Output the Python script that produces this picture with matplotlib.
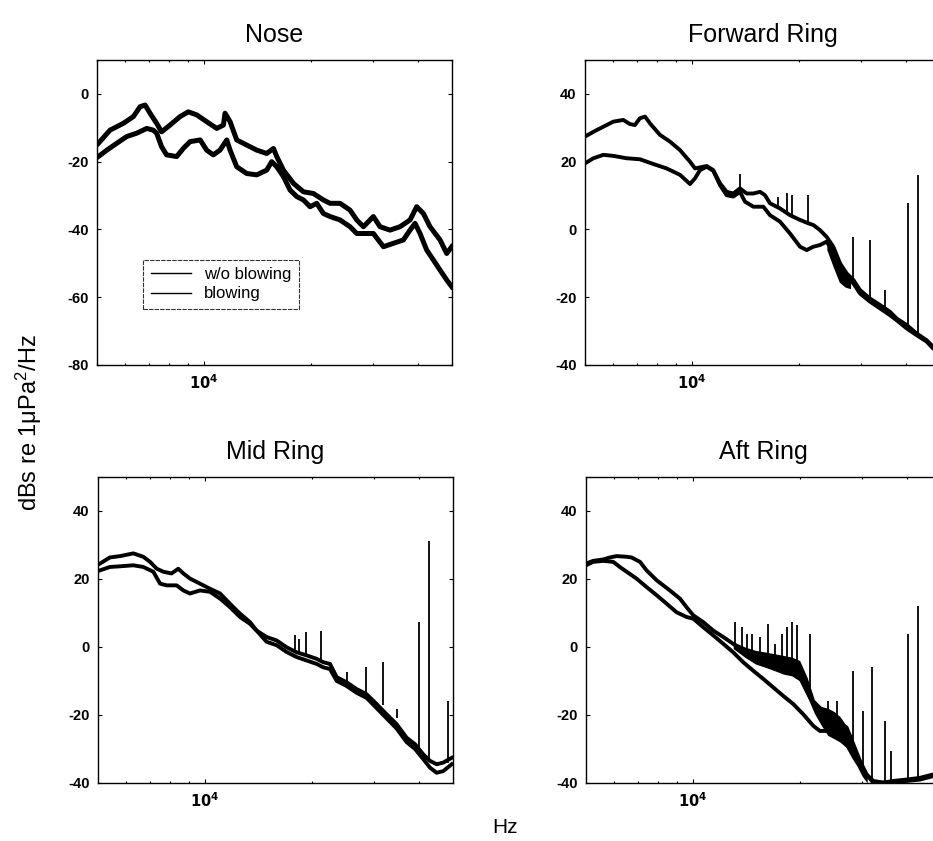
import matplotlib
matplotlib.use("Agg")
import matplotlib.pyplot as plt
from matplotlib.ticker import FixedLocator, FixedFormatter, NullFormatter

plt.rcParams['font.family'] = ['Liberation Sans', 'DejaVu Sans']
plt.rcParams['mathtext.fontset'] = 'custom'
plt.rcParams['mathtext.rm'] = 'Liberation Sans'
plt.rcParams['mathtext.it'] = 'Liberation Sans:italic'

# ---- Nose ----
nose_freq_a = [5043, 5440, 5930, 6330, 6610, 6830, 7050, 7360, 7600, 8030, 8570, 9040, 9540,
               10180, 10870, 11350, 11470, 11850, 12370, 13200, 14090, 15030, 15700, 16040,
               16750, 17870, 19070, 20340, 21700, 22670, 24180, 25800, 26950, 28140, 30020,
               31340, 33440, 35690, 38080, 39760, 41520, 43350, 46260, 48300, 49900]
nose_db_a = [-14.6, -10.7, -8.7, -6.7, -3.8, -3.3, -5.7, -8.7, -11.2, -9.2, -6.7, -5.3, -6.2,
             -8.2, -10.2, -9.2, -5.7, -8.2, -13.6, -15.1, -16.6, -17.6, -16.1, -18.5,
             -22.5, -26.4, -28.9, -29.4, -31.3, -32.3, -32.3, -34.3, -37.2, -39.2, -36.2,
             -39.2, -40.2, -39.2, -37.2, -33.3, -35.3, -39.2, -43.1, -47.1, -45.1]
nose_freq_b = [5043, 5330, 5680, 6060, 6470, 6900, 7200, 7360, 7600, 7850, 8380, 8750, 9140,
               9760, 10180, 10630, 11100, 11350, 11600, 11850, 12370, 13200, 14090, 15030,
               15520, 16040, 16750, 17490, 18260, 19070, 19910, 20790, 21700, 22670, 24180,
               25800, 26950, 28140, 30020, 32040, 34180, 36470, 38080, 39330, 40630, 42430,
               44290, 46260, 48300, 49900]
nose_db_b = [-18.5, -16.6, -14.6, -12.6, -11.6, -10.2, -10.7, -11.6, -15.6, -18.0, -18.5, -16.1,
             -14.1, -13.6, -16.6, -18.0, -16.6, -15.1, -13.6, -16.6, -21.5, -23.5, -23.9, -22.5,
             -20.0, -21.5, -24.4, -28.4, -30.3, -31.3, -33.3, -32.3, -35.3, -36.2, -37.2,
             -39.2, -41.2, -41.2, -41.2, -45.1, -44.1, -43.1, -40.2, -38.2, -41.2, -46.1,
             -49.0, -52.0, -54.9, -56.9]

# ---- Forward Ring ----
fwd_freq_a = [5000, 5280, 5630, 6010, 6410, 6690, 6910, 7140, 7380, 7620, 8130, 8680, 9260,
              9880, 10210, 10540, 11010, 11490, 12000, 12530, 13090, 13660, 14270, 14900,
              15560, 16070, 16600, 17710, 18900, 20170, 21290, 21990, 22960, 23970, 25030,
              26140, 27290, 28500, 29760, 31750, 33880, 36150, 37750, 40280, 42970, 45860,
              47790, 50000]
fwd_db_a = [27.4, 28.8, 30.3, 31.8, 32.3, 31.1, 30.8, 32.8, 33.3, 31.3, 27.9, 25.9, 23.4,
            20.0, 18.0, 18.3, 18.7, 17.5, 13.6, 11.1, 10.6, 12.1, 10.6, 10.6,
            11.1, 10.1, 7.7, 6.2, 4.2, 2.8, 1.8, 1.3, -0.2, -2.2, -5.1,
            -10.0, -13.0, -14.9, -17.9, -20.4, -22.3, -24.3, -26.3, -28.2, -30.7, -32.7,
            -34.6, -35.5]
fwd_freq_b = [5000, 5280, 5630, 6010, 6550, 7140, 7790, 8490, 9260, 9880, 10210, 10540, 11010,
              11490, 12000, 12530, 13090, 13660, 14110, 14900, 15900, 16600, 17710, 18900,
              20170, 21060, 21990, 22960, 23970, 25030, 26140, 27290, 28500, 29760, 31750,
              33880, 36150, 37750, 40280, 42970, 45860, 47790, 50000]
fwd_db_b = [19.5, 21.0, 22.0, 21.7, 21.0, 20.7, 19.3, 18.0, 16.1, 13.4, 15.1, 17.5, 18.5,
            17.3, 13.1, 10.1, 9.7, 11.1, 8.2, 6.7, 6.7, 4.2, 2.3, -1.2,
            -5.1, -6.1, -5.1, -4.6, -3.6, -6.6, -10.5, -14.0, -15.9, -18.9, -21.3,
            -23.3, -25.3, -26.8, -29.2, -31.2, -33.1, -35.1, -36.0]
fwd_band_freq = [24000, 25000, 26000, 27000, 28000]
fwd_band_lo = [-6.0, -11.0, -15.5, -17.0, -17.5]
fwd_band_hi = [-2.5, -5.0, -9.0, -12.0, -14.0]
fwd_spike_freq = [13660, 17520, 18500, 19100, 21290, 28500, 31750, 35000, 40540, 43250]
fwd_spike_base = [11.0, 6.0, 4.5, 4.0, 1.3, -15.0, -20.5, -23.0, -28.0, -31.0]
fwd_spike_top = [16.5, 9.7, 10.6, 10.1, 10.1, -2.2, -3.1, -17.9, 7.7, 16.0]

# ---- Mid Ring ----
mid_freq_a = [5065, 5400, 5770, 6290, 6710, 7010, 7320, 7640, 8060, 8420, 8700, 9080, 9690,
              10340, 11040, 11770, 12560, 13400, 13990, 14930, 15930, 17000, 18150, 19360,
              20650, 21560, 22520, 23520, 25090, 26770, 28560, 30470, 32510, 34690, 37020,
              39080, 41250, 43070, 44980, 46960, 49570]
mid_db_a = [24.5, 26.3, 26.7, 27.5, 26.5, 25.0, 23.0, 22.1, 21.6, 23.0, 21.6, 20.1, 18.6,
            17.1, 15.7, 12.7, 9.8, 7.3, 4.8, 2.9, 1.9, -0.1, -1.6, -2.5,
            -3.5, -4.5, -5.0, -8.9, -10.4, -12.4, -13.9, -16.8, -19.8, -22.7, -26.7,
            -28.6, -31.6, -33.5, -34.5, -34.0, -32.6]
mid_freq_b = [5065, 5400, 5770, 6290, 6710, 7160, 7480, 7810, 8330, 8700, 9080, 9690, 10340,
              11040, 11770, 12560, 13400, 13990, 14930, 15930, 17000, 18150, 19360, 20650,
              21560, 22520, 23520, 25090, 26770, 28560, 30470, 32510, 34690, 37020, 39080,
              41250, 43070, 44980, 46960, 49570]
mid_db_b = [22.5, 23.5, 23.7, 24.0, 23.5, 22.1, 18.6, 18.1, 18.1, 16.6, 15.7, 16.6, 16.2,
            14.2, 11.7, 8.8, 6.8, 4.8, 1.5, 0.5, -1.5, -3.0, -4.0, -5.0,
            -6.0, -6.5, -10.0, -11.5, -13.5, -15.0, -18.0, -21.0, -24.0, -28.0, -30.0,
            -33.0, -35.5, -37.0, -36.5, -34.5]
mid_spike_freq = [17950, 18460, 19270, 21240, 25090, 28440, 31830, 34690, 40190, 42800, 48510]
mid_spike_base = [-1.6, -2.0, -2.5, -4.0, -11.0, -14.0, -17.0, -21.0, -30.0, -33.0, -34.0]
mid_spike_top = [3.4, 2.4, 4.3, 4.8, -7.5, -6.0, -4.5, -18.3, 7.3, 31.0, -15.8]

# ---- Aft Ring ----
aft_freq_a = [5000, 5240, 5590, 5840, 6100, 6510, 6720, 7100, 7410, 7910, 8620, 9200, 9600,
              10030, 10700, 11420, 12190, 13000, 13870, 14800, 15790, 16850, 17980, 19190,
              20030, 20920, 21850, 22810, 23820, 25420, 27120, 28320, 29570, 30870, 32230,
              34400, 36700, 40020, 43630, 47470, 50000]
aft_db_a = [24.5, 25.3, 25.7, 26.3, 26.7, 26.5, 26.3, 25.0, 22.5, 19.6, 16.6, 14.2, 11.7,
            9.3, 7.3, 4.8, 2.9, 0.9, -1.1, -2.5, -4.0, -5.0, -6.0, -7.0,
            -8.9, -12.9, -16.8, -20.8, -21.7, -21.7, -23.7, -28.6, -33.5, -37.5, -39.9,
            -39.9, -39.9, -39.4, -39.0, -38.0, -38.0]
aft_freq_b = [5000, 5240, 5590, 5970, 6230, 6510, 6940, 7410, 7910, 8440, 9000, 9600, 10030,
              10700, 11420, 12190, 13000, 13870, 14800, 15790, 16850, 17980, 19190, 20470,
              21850, 22810, 23820, 25420, 27120, 28320, 29570, 30870, 32230, 34400, 36700,
              40020, 43630, 47470, 50000]
aft_db_b = [24.0, 25.0, 25.3, 25.0, 23.5, 22.1, 20.1, 17.6, 15.2, 12.7, 10.2, 8.8, 8.3,
            5.8, 3.4, 0.9, -1.6, -4.5, -7.0, -9.4, -11.9, -14.4, -16.8, -19.8,
            -23.2, -24.7, -24.7, -25.7, -27.6, -30.6, -34.5, -37.5, -39.4, -39.9, -39.4,
            -39.0, -38.5, -37.5, -37.5]
aft_band_freq = [13000, 14000, 15000, 16000, 17000, 18000, 19000, 20000, 21000, 22000, 23000,
                 24000, 25000, 26000, 27000, 28000, 29000, 30000, 31000]
aft_band_lo = [-0.5, -3.0, -5.0, -6.0, -7.0, -8.0, -8.5, -10.0, -14.5, -19.5, -23.0,
               -26.0, -27.0, -28.0, -29.5, -32.5, -35.0, -38.0, -40.0]
aft_band_hi = [1.5, 0.0, -1.0, -1.5, -2.0, -2.5, -3.0, -4.0, -9.0, -15.5, -17.5,
               -18.0, -19.0, -20.5, -23.0, -26.0, -31.0, -35.5, -38.5]
aft_spike_freq = [13140, 13720, 14170, 14640, 15460, 16310, 17040, 17790, 18370, 18980, 19600,
                  21380, 24070, 25420, 28320, 30210, 31890, 34770, 36150, 40280, 42970]
aft_spike_base = [0.5, -1.0, -2.0, -2.5, -3.5, -4.5, -5.0, -6.0, -6.5, -7.0, -8.0,
                  -15.0, -22.0, -22.0, -28.0, -36.0, -39.0, -39.5, -39.5, -39.0, -39.0]
aft_spike_top = [7.3, 5.8, 3.9, 3.9, 2.9, 6.8, 0.9, 3.9, 5.8, 7.3, 6.3,
                 3.9, -15.8, -15.8, -7.0, -18.8, -6.0, -21.7, -30.6, 3.9, 12.0]


def style_axes(ax, ylim, yticks, title):
    ax.set_xscale('log')
    ax.set_xlim(5000, 50000)
    ax.set_ylim(*ylim)
    ax.xaxis.set_major_locator(FixedLocator([10000]))
    ax.xaxis.set_major_formatter(FixedFormatter(['$\\mathbf{10^4}$']))
    ax.xaxis.set_minor_formatter(NullFormatter())
    ax.set_yticks(yticks)
    ax.set_yticklabels([str(t) for t in yticks], fontweight='bold')
    ax.tick_params(which='both', direction='in', top=True, right=True,
                   labelsize=10.5, width=0.8)
    ax.tick_params(which='major', length=3, pad=6)
    ax.tick_params(which='minor', length=1.5)
    for s in ax.spines.values():
        s.set_linewidth(1.0)
    ax.set_title(title, fontsize=18, pad=13)


fig = plt.figure(figsize=(9.33, 8.41), dpi=100)

ax1 = fig.add_axes([0.104, 0.566, 0.3805, 0.3627])
ax2 = fig.add_axes([0.627, 0.566, 0.3805, 0.3627])
ax3 = fig.add_axes([0.105, 0.069, 0.3805, 0.364])
ax4 = fig.add_axes([0.628, 0.069, 0.3805, 0.364])

lw = 2.8

l1, = ax1.plot(nose_freq_a, nose_db_a, color='black', lw=3.6, label='w/o blowing')
l2, = ax1.plot(nose_freq_b, nose_db_b, color='black', lw=3.6, label='blowing')
style_axes(ax1, (-80, 10), [0, -20, -40, -60, -80], 'Nose')
leg = ax1.legend(handles=[l1, l2], loc='upper left', bbox_to_anchor=(0.13, 0.345),
                 borderaxespad=0, fontsize=12, frameon=True, fancybox=False,
                 edgecolor='black', handlelength=2.4, borderpad=0.45, labelspacing=0.25)
leg.get_frame().set_linewidth(0.8)
leg.get_frame().set_linestyle((0, (4, 1)))
for ln in leg.get_lines():
    ln.set_linewidth(1.0)

ax2.fill_between(fwd_band_freq, fwd_band_lo, fwd_band_hi, color='black', lw=0)
ax2.plot(fwd_freq_a, fwd_db_a, color='black', lw=lw)
ax2.plot(fwd_freq_b, fwd_db_b, color='black', lw=lw)
ax2.vlines(fwd_spike_freq, fwd_spike_base, fwd_spike_top, color='black', lw=1.3)
style_axes(ax2, (-40, 50), [40, 20, 0, -20, -40], 'Forward Ring')

ax3.plot(mid_freq_a, mid_db_a, color='black', lw=lw)
ax3.plot(mid_freq_b, mid_db_b, color='black', lw=lw)
ax3.vlines(mid_spike_freq, mid_spike_base, mid_spike_top, color='black', lw=1.3)
style_axes(ax3, (-40, 50), [40, 20, 0, -20, -40], 'Mid Ring')

ax4.fill_between(aft_band_freq, aft_band_lo, aft_band_hi, color='black', lw=0)
ax4.plot(aft_freq_a, aft_db_a, color='black', lw=lw)
ax4.plot(aft_freq_b, aft_db_b, color='black', lw=lw)
ax4.vlines(aft_spike_freq, aft_spike_base, aft_spike_top, color='black', lw=1.3)
style_axes(ax4, (-40, 50), [40, 20, 0, -20, -40], 'Aft Ring')

fig.text(0.031, 0.498, 'dBs re 1\u03bcPa$^2$/Hz', rotation=90, fontsize=17,
         ha='center', va='center')
fig.text(0.541, 0.016, 'Hz', fontsize=15, ha='center', va='center')

fig.savefig('out.png', dpi=100)
